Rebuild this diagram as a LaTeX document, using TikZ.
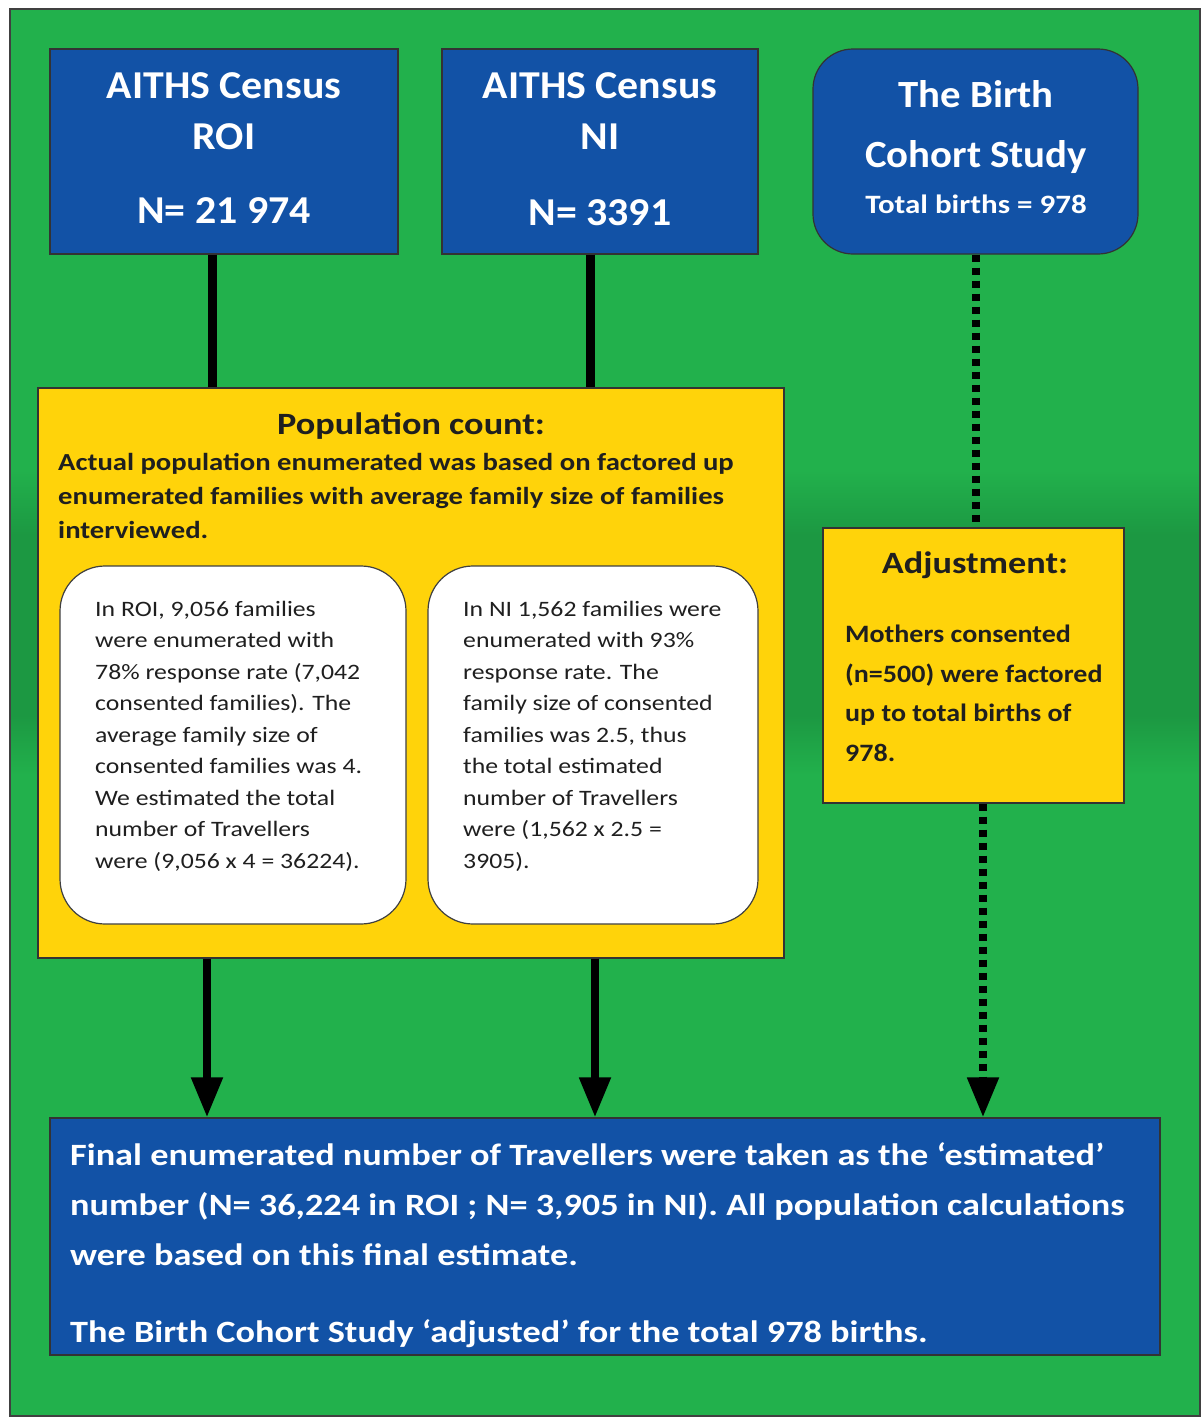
\documentclass[tikz,border=0pt]{standalone}
\usepackage{fontspec}
\setmainfont{Carlito}
\newfontfamily\boxfont[FakeStretch=1.06]{Carlito}
\newfontfamily\bodyfont[FakeStretch=1.17]{Carlito}
\newfontfamily\adjfont[FakeStretch=1.12]{Carlito}
\usepackage{tikz}
\usetikzlibrary{arrows.meta,positioning,calc}

\definecolor{bggreen}{RGB}{34,177,76}
\definecolor{bgdark}{RGB}{28,152,66}
\definecolor{boxblue}{RGB}{18,82,166}
\definecolor{boxyellow}{RGB}{255,211,10}

\tikzset{
  bluebox/.style={draw=black!80, line width=1.2pt, fill=boxblue, inner sep=0pt},
  yellowbox/.style={draw=black!80, line width=1.2pt, fill=boxyellow, inner sep=0pt},
  notebox/.style={draw=black!75, line width=1.2pt, fill=white, rounded corners=45pt, inner sep=0pt},
  whitetxt/.style={text=white, inner sep=0pt},
  darktxt/.style={text=black!88, inner sep=0pt},
  link/.style={line width=9pt},
  dotlink/.style={line width=8pt, dash pattern=on 7pt off 6pt},
  flow/.style={line width=8pt, -{Triangle[width=30pt,length=40pt]}},
}

\begin{document}
\begin{tikzpicture}[x=1pt,y=-1pt]
  \useasboundingbox (0,0) rectangle (1200,1419);
  % background
  \fill[white] (0,0) rectangle (1200,1419);
  \fill[bggreen] (10,9) rectangle (1200,1416);
  \shade[top color=bggreen, bottom color=bgdark] (10,470) rectangle (1200,535);
  \fill[bgdark] (10,535) rectangle (1200,715);
  \shade[top color=bgdark, bottom color=bggreen] (10,715) rectangle (1200,775);
  \draw[black!75, line width=1.2pt] (10,9) rectangle (1200,1416);

  % top boxes
  \node[bluebox, minimum width=348pt, minimum height=205pt] (roi) at (224,151.5) {};
  \node[bluebox, minimum width=316pt, minimum height=205pt] (ni) at (600,151.5) {};
  \node[bluebox, rounded corners=40pt, minimum width=325pt, minimum height=205pt] (birth) at (975.5,151.5) {};

  \node[whitetxt, anchor=north, align=center, font=\boxfont\fontsize{39.5}{51}\selectfont\bfseries]
    (roitxt) at (224,72) {AITHS Census\\ROI\\[23pt]N= 21 974};
  \node[whitetxt, anchor=north, align=center, font=\boxfont\fontsize{39.5}{51}\selectfont\bfseries]
    (nitxt) at (600,72) {AITHS Census\\NI\\[25pt]N= 3391};
  \node[whitetxt, anchor=north, align=center, font=\boxfont\fontsize{38.5}{60}\selectfont\bfseries]
    (birthtxt) at (976,80) {The Birth\\Cohort Study};
  \node[whitetxt, anchor=base, font=\bodyfont\fontsize{26.5}{30}\selectfont\bfseries]
    (birthtotal) at (976,213) {Total births = 978};

  % population count
  \node[yellowbox, minimum width=746pt, minimum height=570pt] (pop) at (411,673) {};
  \node[darktxt, anchor=base, font=\bodyfont\fontsize{31}{36}\selectfont\bfseries]
    (poptitle) at (411,434) {Population count:};
  \node[darktxt, anchor=north west, align=left, font=\bodyfont\fontsize{24.5}{34}\selectfont\bfseries]
    (poptxt) at (58,453) {Actual population enumerated was based on factored up\\
      enumerated families with average family size of families\\interviewed.};

  \node[notebox, minimum width=346pt, minimum height=358pt] (roinote) at (233,745) {};
  \node[notebox, minimum width=330pt, minimum height=358pt] (ninote) at (593,745) {};
  \node[darktxt, anchor=north west, align=left, font=\bodyfont\fontsize{22}{31.5}\selectfont]
    (roinotetxt) at (95,601) {In ROI, 9,056 families\\were enumerated with\\
      78\% response rate (7,042\\consented families). The\\average family size of\\
      consented families was 4.\\We estimated the total\\number of Travellers\\
      were (9,056 x 4 = 36224).};
  \node[darktxt, anchor=north west, align=left, font=\bodyfont\fontsize{22}{31.5}\selectfont]
    (ninotetxt) at (463,601) {In NI 1,562 families were\\enumerated with 93\%\\
      response rate. The\\family size of consented\\families was 2.5, thus\\
      the total estimated\\number of Travellers\\were (1,562 x 2.5 =\\3905).};

  % adjustment
  \node[yellowbox, minimum width=301pt, minimum height=275pt] (adj) at (973.5,665.5) {};
  \node[darktxt, anchor=base, font=\bodyfont\fontsize{31}{36}\selectfont\bfseries]
    (adjtitle) at (975,573) {Adjustment:};
  \node[darktxt, anchor=north west, align=left, font=\adjfont\fontsize{25}{39.5}\selectfont\bfseries]
    (adjtxt) at (845,625) {Mothers consented\\(n=500) were factored\\up to total births of\\978.};

  % final estimate
  \node[bluebox, minimum width=1110pt, minimum height=237pt] (final) at (605,1236.5) {};
  \node[whitetxt, anchor=north west, align=left, font=\bodyfont\fontsize{31}{50}\selectfont\bfseries]
    (finaltxt) at (70,1142) {Final enumerated number of Travellers were taken as the ‘estimated’\\
      number (N= 36,224 in ROI ; N= 3,905 in NI). All population calculations\\
      were based on this final estimate.\\[27pt]
      The Birth Cohort Study ‘adjusted’ for the total 978 births.};

  % connectors
  \draw[link] ([xshift=-12pt]roi.south) -- ([xshift=-12pt]roi.south |- pop.north);
  \draw[link] ([xshift=-10pt]ni.south) -- ([xshift=-10pt]ni.south |- pop.north);
  \draw[dotlink] (birth.south) -- (birth.south |- adj.north);
  \draw[flow] ([xshift=-204pt]pop.south) -- ([xshift=-204pt]pop.south |- final.north);
  \draw[flow] ([xshift=184pt]pop.south) -- ([xshift=184pt]pop.south |- final.north);
  \draw[flow, dash pattern=on 7pt off 6pt] ([xshift=9.5pt]adj.south) -- ([xshift=9.5pt]adj.south |- final.north);
\end{tikzpicture}
\end{document}
